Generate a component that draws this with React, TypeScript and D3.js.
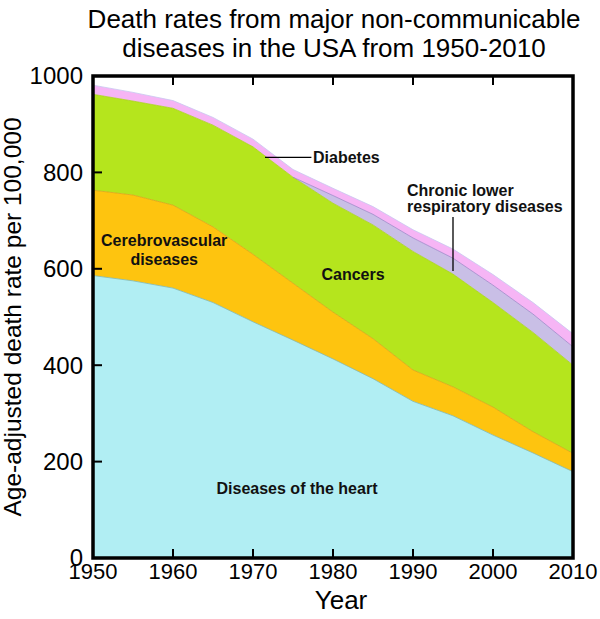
import React from "react";
import * as d3 from "d3";

const years = [1950, 1955, 1960, 1965, 1970, 1975, 1980, 1985, 1990, 1995, 2000, 2005, 2010];
const heart = [586, 575, 560, 530, 490, 452, 413, 372, 325, 295, 255, 218, 179];
const cerebro = [177, 178, 172, 157, 140, 118, 97, 83, 65, 60, 58, 44, 38];
const cancer = [199, 195, 201, 211, 223, 220, 226, 236, 246, 234, 217, 206, 183];
const clrd = [0, 0, 0, 0, 0, 0, 16, 22, 28, 33, 36, 38, 38];
const diabetes = [19, 18, 16, 16, 16, 16, 15, 16, 17, 19, 22, 24, 27];
const clrdStart = 1975;

const yTicks = [0, 200, 400, 600, 800, 1000];
const xTicks = [1950, 1960, 1970, 1980, 1990, 2000, 2010];

const keys = ["heart", "cerebro", "cancer", "clrd", "diabetes"];
const fills: Record<string, string> = {
  heart: "#b1eef3",
  cerebro: "#fec40f",
  cancer: "#b5e51d",
  clrd: "#c9bfe6",
  diabetes: "#f6b5f5",
};
const strokes: Record<string, string> = {
  heart: "#7fb7b2",
  cerebro: "#dca312",
  cancer: "#a9d21c",
  clrd: "#9c86c8",
  diabetes: "#c8c8f0",
};

const FONT = "'Liberation Sans', Arial, Helvetica, sans-serif";

export default function App() {
  const left = 93, right = 573, top = 76, bottom = 558;
  const x = d3.scaleLinear().domain([1950, 2010]).range([left, right]);
  const y = d3.scaleLinear().domain([0, 1000]).range([bottom, top]);

  const rows = years.map((yr, i) => ({
    year: yr,
    heart: heart[i],
    cerebro: cerebro[i],
    cancer: cancer[i],
    clrd: clrd[i],
    diabetes: diabetes[i],
  }));
  const stacked = d3.stack<any>().keys(keys)(rows);

  const areaFor = (key: string) =>
    d3
      .area<any>()
      .defined((d) => key !== "clrd" || d.data.year >= clrdStart)
      .x((d) => x(d.data.year))
      .y0((d) => y(d[0]))
      .y1((d) => y(d[1]));
  const lineFor = (key: string) =>
    d3
      .line<any>()
      .defined((d) => key !== "clrd" || d.data.year >= clrdStart)
      .x((d) => x(d.data.year))
      .y((d) => y(d[1]));

  // interpolate stacked values for annotation leaders
  const interp = (layer: any, yr: number, frac: number) => {
    const xs = years;
    let i = 0;
    while (i < xs.length - 2 && xs[i + 1] < yr) i++;
    const t = (yr - xs[i]) / (xs[i + 1] - xs[i]);
    const lo = layer[i][0] + (layer[i + 1][0] - layer[i][0]) * t;
    const hi = layer[i][1] + (layer[i + 1][1] - layer[i][1]) * t;
    return lo + (hi - lo) * frac;
  };
  const diabLayer = stacked[4];
  const clrdLayer = stacked[3];
  const diabY = y(interp(diabLayer, 1971.5, 0)) + 1.5;
  const clrdLeaderEnd = y(interp(clrdLayer, 1995, 0.2));

  const labelStyle = { fontFamily: FONT, fontWeight: 700, fontSize: 16, fill: "#111" } as any;

  return (
    <svg
      width={600}
      height={619}
      style={{ position: "absolute", left: 0, top: 0, background: "#fff" }}
    >
      <rect x={0} y={0} width={600} height={619} fill="#fff" />
      {/* title */}
      <text x={334} y={28} textAnchor="middle" fontFamily={FONT} fontSize={26} fill="#000">
        Death rates from major non-communicable
      </text>
      <text x={334} y={57} textAnchor="middle" fontFamily={FONT} fontSize={26} fill="#000">
        diseases in the USA from 1950-2010
      </text>

      {/* areas */}
      {stacked.map((layer: any) => (
        <path key={layer.key} d={areaFor(layer.key)(layer) || ""} fill={fills[layer.key]} />
      ))}
      {stacked.map((layer: any) => (
        <path
          key={layer.key + "-l"}
          d={lineFor(layer.key)(layer) || ""}
          fill="none"
          stroke={strokes[layer.key]}
          strokeWidth={0.8}
        />
      ))}

      {/* frame */}
      <rect
        x={left}
        y={top}
        width={right - left}
        height={bottom - top}
        fill="none"
        stroke="#000"
        strokeWidth={3.5}
      />
      {/* ticks */}
      {xTicks.slice(1, -1).map((t) => (
        <g key={"xt" + t}>
          <line x1={x(t)} x2={x(t)} y1={bottom} y2={bottom - 9} stroke="#000" strokeWidth={2} />
          <line x1={x(t)} x2={x(t)} y1={top} y2={top + 9} stroke="#000" strokeWidth={2} />
        </g>
      ))}
      {yTicks.slice(1, -1).map((t) => (
        <line key={"yt" + t} x1={left} x2={left + 9} y1={y(t)} y2={y(t)} stroke="#000" strokeWidth={2} />
      ))}
      {/* tick labels */}
      {yTicks.map((t) => (
        <text
          key={"yl" + t}
          x={left - 10}
          y={y(t)}
          dy="0.35em"
          textAnchor="end"
          fontFamily={FONT}
          fontSize={24}
          fill="#000"
        >
          {t}
        </text>
      ))}
      {xTicks.map((t) => (
        <text
          key={"xl" + t}
          x={x(t)}
          y={579}
          textAnchor="middle"
          fontFamily={FONT}
          fontSize={22}
          fill="#000"
        >
          {t}
        </text>
      ))}
      {/* axis titles */}
      <text x={341} y={609} textAnchor="middle" fontFamily={FONT} fontSize={26} fill="#000">
        Year
      </text>
      <text
        transform={`translate(21,${(top + bottom) / 2}) rotate(-90)`}
        textAnchor="middle"
        fontFamily={FONT}
        fontSize={24.5}
        fill="#000"
      >
        Age-adjusted death rate per 100,000
      </text>

      {/* series labels */}
      <text x={x(1975.5)} y={y(133)} textAnchor="middle" {...labelStyle}>
        Diseases of the heart
      </text>
      <text x={x(1958.9)} y={y(647)} textAnchor="middle" {...labelStyle}>
        Cerebrovascular
      </text>
      <text x={x(1958.9)} y={y(608)} textAnchor="middle" {...labelStyle}>
        diseases
      </text>
      <text x={x(1982.5)} y={y(577)} textAnchor="middle" {...labelStyle}>
        Cancers
      </text>
      <line x1={x(1971.5)} x2={x(1977.3)} y1={diabY} y2={diabY} stroke="#000" strokeWidth={1.3} />
      <text x={x(1977.5)} y={diabY + 6} textAnchor="start" {...labelStyle}>
        Diabetes
      </text>
      <text x={x(1989.25)} y={y(751)} textAnchor="start" {...labelStyle}>
        Chronic lower
      </text>
      <text x={x(1989.25)} y={y(718)} textAnchor="start" {...labelStyle}>
        respiratory diseases
      </text>
      <line
        x1={x(1995)}
        x2={x(1995)}
        y1={y(718) + 5}
        y2={clrdLeaderEnd}
        stroke="#000"
        strokeWidth={1.3}
      />
    </svg>
  );
}
